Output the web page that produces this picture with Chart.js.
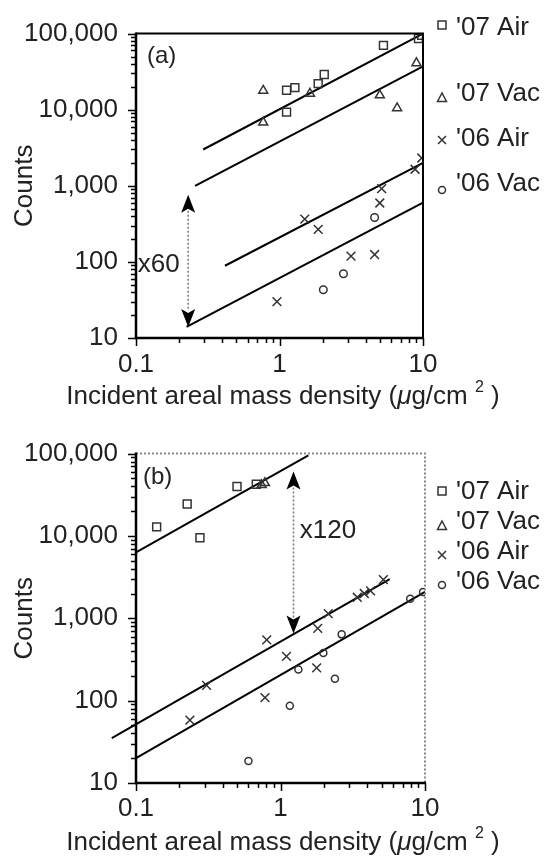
<!DOCTYPE html>
<html>
<head>
<meta charset="utf-8">
<script src="https://cdn.jsdelivr.net/npm/chart.js@4.4.0/dist/chart.umd.min.js"></script>
<style>
  body { margin: 0; background: #fff; }
  canvas { position: absolute; left: 0; }
  #chartA { top: 0; }
  #chartB { top: 420px; }
</style>
</head>
<body>
<canvas id="chartA" width="551" height="420"></canvas>
<canvas id="chartB" width="551" height="440"></canvas>
<script>
// panel (a) data
const aAir07X = [1.12, 1.12, 1.28, 1.86, 2.05, 5.3, 9.3, 9.8];
const aAir07Y = [9300, 18000, 19500, 22000, 29000, 70000, 86000, 95000];
const aVac07X = [0.77, 0.77, 1.63, 5.0, 6.6, 9.0];
const aVac07Y = [17800, 6800, 16300, 15500, 10500, 41000];
const aAir06X = [0.96, 1.5, 1.86, 3.15, 4.6, 5.0, 5.15, 8.8, 9.8];
const aAir06Y = [30, 365, 267, 119, 125, 594, 920, 1650, 2320];
const aVac06X = [2.02, 2.79, 4.6];
const aVac06Y = [43, 70, 383];
// fitted lines (a): [x0, x1], [y0, y1]
const aFitAir07 = [[0.294, 10], [3000, 100000]];
const aFitVac07 = [[0.258, 10], [1000, 37000]];
const aFitAir06 = [[0.417, 10], [89, 2000]];
const aFitVac06 = [[0.225, 10], [14, 600]];
const aArrow = { x: 0.231, top: 760, bottom: 14, label: 'x60', labelX: 0.103, labelY: 92 };

// panel (b) data
const bAir07X = [0.139, 0.226, 0.277, 0.5, 0.68];
const bAir07Y = [12900, 24400, 9500, 39800, 42400];
const bVac07X = [0.74, 0.78];
const bVac07Y = [41600, 44000];
const bAir06X = [0.236, 0.308, 0.781, 0.803, 1.10, 1.78, 1.81, 2.14, 3.4, 3.8, 4.2, 5.15];
const bAir06Y = [58, 153, 109, 547, 345, 250, 755, 1140, 1800, 2000, 2150, 2950];
const bVac06X = [0.6, 1.16, 1.33, 1.98, 2.38, 2.65, 7.9, 9.7];
const bVac06Y = [18.5, 86.5, 239, 378, 185, 638, 1730, 2080];
const bFitAir07 = [[0.1, 1.56], [6300, 95000]];
const bFitAir06 = [[0.068, 5.7], [35, 3000]];
const bFitVac06 = [[0.1, 10], [20, 2100]];
const bArrow = { x: 1.23, top: 60800, bottom: 656, label: 'x120', labelX: 1.36, labelY: 11500 };

const legendNames = ["'07 Air", "'07 Vac", "'06 Air", "'06 Vac"];
const xTickValues = [0.1, 1, 10];
const yTickValues = [10, 100, 1000, 10000, 100000];

const FONT = "'Liberation Sans', Arial, Helvetica, sans-serif";
const FS = 26;
const MARK = '#333';
const INK = '#222';

function pts(xs, ys) {
    return xs.map((x, i) => ({ x: x, y: ys[i] }));
}

function markers(xs, ys, style, radius) {
    return {
        data: pts(xs, ys),
        pointStyle: style,
        pointRadius: radius,
        pointBorderColor: MARK,
        pointBackgroundColor: 'rgba(0,0,0,0)',
        pointBorderWidth: 1.5,
        showLine: false
    };
}

function fit(line) {
    return {
        data: pts(line[0], line[1]),
        showLine: true,
        pointRadius: 0,
        borderColor: '#000',
        borderWidth: 2,
        clip: false
    };
}

function logTicks(min, max) {
    const out = [];
    for (let d = min; d < max * 1.001; d *= 10) {
        for (let m = 1; m <= 9; m++) {
            const v = m * d;
            if (v <= max * 1.001) out.push({ v: v, major: m === 1 });
        }
    }
    return out;
}

function drawSymbol(ctx, kind, x, y) {
    ctx.beginPath();
    if (kind === 0) {
        ctx.rect(x - 4, y - 4, 8, 8);
    } else if (kind === 1) {
        ctx.moveTo(x, y - 5);
        ctx.lineTo(x + 4.5, y + 3.5);
        ctx.lineTo(x - 4.5, y + 3.5);
        ctx.closePath();
    } else if (kind === 2) {
        ctx.moveTo(x - 4, y - 4); ctx.lineTo(x + 4, y + 4);
        ctx.moveTo(x + 4, y - 4); ctx.lineTo(x - 4, y + 4);
    } else {
        ctx.arc(x, y, 3.5, 0, Math.PI * 2);
    }
    ctx.stroke();
}

// x title with italic mu and superscript 2
function drawXTitle(ctx, cx, cy) {
    const base = FS + 'px ' + FONT;
    const ital = 'italic ' + FS + 'px ' + FONT;
    const sup = '16px ' + FONT;
    const parts = [
        { t: 'Incident areal mass density (', f: base, dy: 0 },
        { t: 'μ', f: ital, dy: 0 },
        { t: 'g/cm ', f: base, dy: 0 },
        { t: '2', f: sup, dy: -9 },
        { t: ' )', f: base, dy: 0 }
    ];
    let total = 0;
    parts.forEach(p => { ctx.font = p.f; p.w = ctx.measureText(p.t).width; total += p.w; });
    let x0 = cx - total / 2;
    ctx.textAlign = 'left';
    ctx.textBaseline = 'middle';
    ctx.fillStyle = INK;
    parts.forEach(p => {
        ctx.font = p.f;
        ctx.fillText(p.t, x0, cy + p.dy);
        x0 += p.w;
    });
}

// frame, tick marks, legend, panel letter, arrow and x title
function decor(cfg) {
    return {
        id: 'decor',
        afterDraw(chart) {
            const { ctx, chartArea: ca, scales: { x, y } } = chart;
            ctx.save();

            // top and right frame
            ctx.lineWidth = 2;
            if (cfg.dottedFrame) {
                ctx.strokeStyle = '#888';
                ctx.setLineDash([2, 2]);
            } else {
                ctx.strokeStyle = '#000';
            }
            ctx.beginPath();
            ctx.moveTo(ca.left, ca.top);
            ctx.lineTo(ca.right, ca.top);
            ctx.lineTo(ca.right, ca.bottom);
            ctx.stroke();
            ctx.setLineDash([]);

            // axes
            ctx.strokeStyle = '#000';
            ctx.lineWidth = 2.5;
            ctx.beginPath();
            ctx.moveTo(ca.left, ca.top - 1);
            ctx.lineTo(ca.left, ca.bottom);
            ctx.lineTo(ca.right + 1, ca.bottom);
            ctx.stroke();

            // tick marks
            ctx.lineWidth = 1.5;
            ctx.beginPath();
            logTicks(10, 100000).forEach(t => {
                const py = Math.round(y.getPixelForValue(t.v)) + 0.5;
                ctx.moveTo(ca.left - (t.major ? 8 : 5), py);
                ctx.lineTo(ca.left, py);
            });
            logTicks(0.1, 10).forEach(t => {
                const px = Math.round(x.getPixelForValue(t.v)) + 0.5;
                ctx.moveTo(px, ca.bottom);
                ctx.lineTo(px, ca.bottom + (t.major ? 8 : 5));
            });
            ctx.stroke();

            // panel letter
            ctx.fillStyle = INK;
            ctx.font = '24px ' + FONT;
            ctx.textBaseline = 'middle';
            ctx.textAlign = 'left';
            ctx.fillText(cfg.letter, ca.left + cfg.letterDx, ca.top + cfg.letterDy);

            // legend
            ctx.font = FS + 'px ' + FONT;
            ctx.strokeStyle = MARK;
            ctx.lineWidth = 1.5;
            legendNames.forEach((name, i) => {
                drawSymbol(ctx, i, 442, cfg.legendSym[i]);
                ctx.fillText(name, 456, cfg.legendText[i]);
            });

            // ratio arrow
            const a = cfg.arrow;
            const ax = x.getPixelForValue(a.x);
            const yt = y.getPixelForValue(a.top);
            const yb = y.getPixelForValue(a.bottom);
            const head = 18, hw = 7;
            ctx.strokeStyle = '#777';
            ctx.lineWidth = 1.5;
            ctx.setLineDash([2, 2]);
            ctx.beginPath();
            ctx.moveTo(ax, yt + head - 2);
            ctx.lineTo(ax, yb - head + 2);
            ctx.stroke();
            ctx.setLineDash([]);
            ctx.fillStyle = '#000';
            ctx.beginPath();
            ctx.moveTo(ax, yt);
            ctx.lineTo(ax + hw, yt + head);
            ctx.lineTo(ax, yt + head - 4);
            ctx.lineTo(ax - hw, yt + head);
            ctx.closePath();
            ctx.moveTo(ax, yb);
            ctx.lineTo(ax + hw, yb - head);
            ctx.lineTo(ax, yb - head + 4);
            ctx.lineTo(ax - hw, yb - head);
            ctx.closePath();
            ctx.fill();

            ctx.fillStyle = INK;
            ctx.font = FS + 'px ' + FONT;
            ctx.fillText(a.label, x.getPixelForValue(a.labelX), y.getPixelForValue(a.labelY));

            drawXTitle(ctx, 283, cfg.titleY);
            ctx.restore();
        }
    };
}

function makeChart(id, datasets, cfg) {
    const tickFont = { family: FONT, size: FS };
    return new Chart(document.getElementById(id), {
        type: 'scatter',
        data: { datasets: datasets },
        options: {
            responsive: false,
            animation: false,
            layout: { padding: { left: 0, top: cfg.top, right: cfg.right, bottom: 0 } },
            plugins: { legend: { display: false }, tooltip: { enabled: false } },
            scales: {
                x: {
                    type: 'logarithmic',
                    position: 'bottom',
                    min: 0.1,
                    max: 10,
                    grid: { display: false, drawTicks: false },
                    border: { display: false },
                    afterBuildTicks: s => { s.ticks = xTickValues.map(v => ({ value: v })); },
                    afterFit: s => { s.height = cfg.xHeight; },
                    ticks: {
                        font: tickFont,
                        color: INK,
                        padding: cfg.xPad,
                        autoSkip: false,
                        maxRotation: 0,
                        callback: v => String(v)
                    },
                    title: { display: false }
                },
                y: {
                    type: 'logarithmic',
                    min: 10,
                    max: 100000,
                    grid: { display: false, drawTicks: false },
                    border: { display: false },
                    afterBuildTicks: s => { s.ticks = yTickValues.map(v => ({ value: v })); },
                    afterFit: s => { s.width = 136; },
                    ticks: {
                        font: tickFont,
                        color: INK,
                        padding: 18,
                        autoSkip: false,
                        callback: v => Number(v).toLocaleString('en-US')
                    },
                    title: {
                        display: true,
                        text: 'Counts',
                        font: tickFont,
                        color: INK,
                        padding: 9
                    }
                }
            }
        },
        plugins: [decor(cfg)]
    });
}

makeChart('chartA', [
    markers(aAir07X, aAir07Y, 'rect', 5.6),
    markers(aVac07X, aVac07Y, 'triangle', 5.2),
    markers(aAir06X, aAir06Y, 'crossRot', 6.2),
    markers(aVac06X, aVac06Y, 'circle', 3.8),
    fit(aFitAir07), fit(aFitVac07), fit(aFitAir06), fit(aFitVac06)
], {
    top: 23, right: 128, xHeight: 82, xPad: 11, titleY: 397,
    letter: '(a)', letterDx: 11, letterDy: 23,
    legendSym: [25, 98, 140, 190], legendText: [28, 94, 139, 184],
    arrow: aArrow, dottedFrame: false
});

makeChart('chartB', [
    markers(bAir07X, bAir07Y, 'rect', 5.6),
    markers(bVac07X, bVac07Y, 'triangle', 5.2),
    markers(bAir06X, bAir06Y, 'crossRot', 6.2),
    markers(bVac06X, bVac06Y, 'circle', 3.5),
    fit(bFitAir07), fit(bFitAir06), fit(bFitVac06)
], {
    top: 30, right: 126, xHeight: 77, xPad: 10, titleY: 423,
    letter: '(b)', letterDx: 7, letterDy: 24,
    legendSym: [71, 106, 135, 165], legendText: [72, 102, 132, 162],
    arrow: bArrow, dottedFrame: true
});
</script>
</body>
</html>
